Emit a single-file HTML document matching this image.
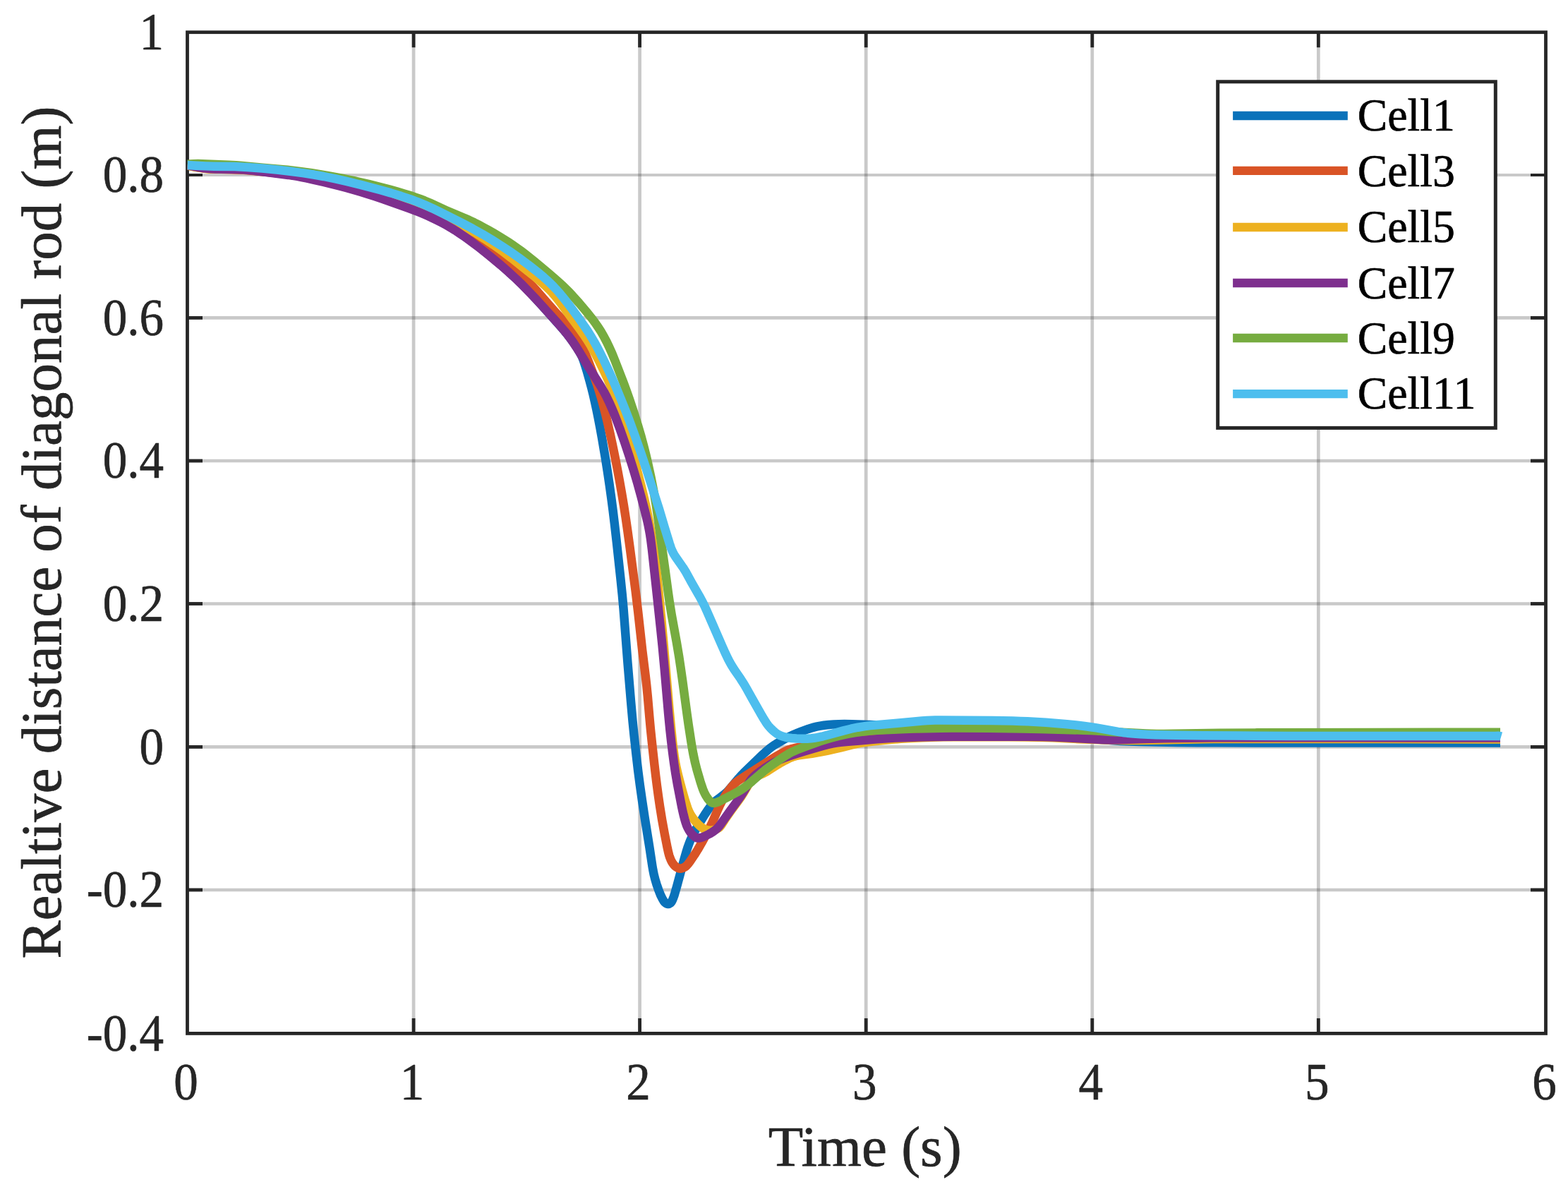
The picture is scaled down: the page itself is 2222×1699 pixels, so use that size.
<!DOCTYPE html>
<html lang="en"><head><meta charset="utf-8"><title>Relative distance of diagonal rod</title>
<style>html,body{margin:0;padding:0;background:#fff}body{width:2222px;height:1699px;overflow:hidden}svg{display:block}text{font-family:"Liberation Serif","DejaVu Serif",serif;fill:#262626;stroke:#262626;stroke-width:0.7px;stroke-linejoin:round}.tk{font-size:73.5px}.lab{font-size:81px}.lg{font-size:66px;fill:#000;stroke:#000}</style></head><body>
<svg width="2222" height="1699" viewBox="0 0 2222 1699">
<rect width="2222" height="1699" fill="#fff"/>
<g stroke="#262626" stroke-opacity="0.25" stroke-width="4.7" fill="none">
<line x1="586.1" y1="45.7" x2="586.1" y2="1464.4"/>
<line x1="906.6" y1="45.7" x2="906.6" y2="1464.4"/>
<line x1="1227.2" y1="45.7" x2="1227.2" y2="1464.4"/>
<line x1="1547.8" y1="45.7" x2="1547.8" y2="1464.4"/>
<line x1="1868.3" y1="45.7" x2="1868.3" y2="1464.4"/>
<line x1="265.5" y1="248.0" x2="2190.5" y2="248.0" stroke-width="4"/>
<line x1="265.5" y1="450.4" x2="2190.5" y2="450.4"/>
<line x1="265.5" y1="653.0" x2="2190.5" y2="653.0"/>
<line x1="265.5" y1="855.5" x2="2190.5" y2="855.5"/>
<line x1="265.5" y1="1058.4" x2="2190.5" y2="1058.4"/>
<line x1="265.5" y1="1261.0" x2="2190.5" y2="1261.0"/>
</g>
<g stroke="#262626" stroke-width="4.8" fill="none">
<rect x="265.5" y="45.7" width="1925.0" height="1418.7"/>
<line x1="586.1" y1="1464.4" x2="586.1" y2="1442.9"/>
<line x1="586.1" y1="45.7" x2="586.1" y2="67.2"/>
<line x1="906.6" y1="1464.4" x2="906.6" y2="1442.9"/>
<line x1="906.6" y1="45.7" x2="906.6" y2="67.2"/>
<line x1="1227.2" y1="1464.4" x2="1227.2" y2="1442.9"/>
<line x1="1227.2" y1="45.7" x2="1227.2" y2="67.2"/>
<line x1="1547.8" y1="1464.4" x2="1547.8" y2="1442.9"/>
<line x1="1547.8" y1="45.7" x2="1547.8" y2="67.2"/>
<line x1="1868.3" y1="1464.4" x2="1868.3" y2="1442.9"/>
<line x1="1868.3" y1="45.7" x2="1868.3" y2="67.2"/>
<line x1="265.5" y1="248.0" x2="287.0" y2="248.0" stroke-width="4"/>
<line x1="2190.5" y1="248.0" x2="2169.0" y2="248.0" stroke-width="4"/>
<line x1="265.5" y1="450.4" x2="287.0" y2="450.4"/>
<line x1="2190.5" y1="450.4" x2="2169.0" y2="450.4"/>
<line x1="265.5" y1="653.0" x2="287.0" y2="653.0"/>
<line x1="2190.5" y1="653.0" x2="2169.0" y2="653.0"/>
<line x1="265.5" y1="855.5" x2="287.0" y2="855.5"/>
<line x1="2190.5" y1="855.5" x2="2169.0" y2="855.5"/>
<line x1="265.5" y1="1058.4" x2="287.0" y2="1058.4"/>
<line x1="2190.5" y1="1058.4" x2="2169.0" y2="1058.4"/>
<line x1="265.5" y1="1261.0" x2="287.0" y2="1261.0"/>
<line x1="2190.5" y1="1261.0" x2="2169.0" y2="1261.0"/>
</g>
<clipPath id="pc"><rect x="265.5" y="45.7" width="1925.0" height="1418.7"/></clipPath>
<g clip-path="url(#pc)" fill="none" stroke-width="12.5" stroke-linejoin="round" stroke-linecap="butt">
<path stroke="#0A72BA" d="M265.5 234L275.47 235.79L282.39 236.93L288.22 237.72L294.14 238.33L299.1 238.69L304.09 238.91L330.09 239.43L342.07 239.95L348.05 240.38L355.02 241.01L377.91 243.45L397.79 245.71L412.64 247.74L419.55 248.85L426.43 250.08L441.14 253.04L451.89 255.41L462.6 257.91L473.28 260.55L483.93 263.31L495.51 266.44L506.1 269.44L516.64 272.58L526.18 275.56L536.63 279L548.92 283.24L564.93 288.98L578.07 293.83L587.4 297.43L595.73 300.82L603.99 304.38L611.27 307.7L618.49 311.17L624.74 314.34L630.91 317.64L636.12 320.58L641.27 323.65L647.18 327.38L653.01 331.26L658.77 335.24L666.09 340.48L673.32 345.85L680.46 351.32L688.32 357.52L696.85 364.46L704.53 370.86L712.12 377.38L719.62 384L731.41 394.82L742.15 405.28L753.27 416.78L766.13 430.77L792.77 460.66L800.63 469.75L805.04 475.17L809.3 480.73L813.39 486.42L817.31 492.25L820.5 497.35L822.98 501.69L824.73 505.25L826.57 509.85L829.09 517.41L831.72 526.01L835.28 538.52L838.13 549.15L840.53 558.84L842.78 568.58L845.31 580.3L847.89 593.04L850.53 606.8L853.03 620.59L858.21 651.15L861 668.93L863.64 686.74L866.27 705.57L868.6 723.41L870.76 741.28L873.71 767.12L879.32 818.81L881.76 842.69L883.48 861.61L889.47 939.38L894.06 994.19L896.45 1021.08L898.63 1042.97L901.47 1068.82L904.27 1092.65L906.86 1112.48L910.11 1135.25L913.86 1159.97L920.37 1200.45L924.39 1227.16L925.41 1233.06L926.62 1238.93L928.3 1245.7L930.58 1253.36L933.21 1260.9L936.13 1268.39L938.8 1273.78L940.89 1277.21L942.15 1278.71L943.62 1279.9L944.43 1280.38L945.29 1280.75L946.16 1280.97L947.03 1281.02L947.88 1280.87L948.71 1280.54L949.5 1280.05L950.9 1278.77L952.04 1277.23L952.94 1275.48L954.07 1272.72L955.42 1268.92L959.08 1256.36L969.51 1217.71L972.53 1207.13L974.34 1201.42L975.98 1196.71L977.78 1192.08L979.76 1187.51L982.37 1182.14L985.67 1175.97L990.17 1168.15L994.83 1160.42L998.56 1154.5L1002.45 1148.68L1005.92 1143.79L1009 1139.89L1011.02 1137.73L1013.96 1135.09L1025.84 1126.01L1028.14 1124.12L1030.32 1122.11L1032.37 1119.97L1034.34 1117.73L1042.64 1107.7L1046.54 1103.13L1049.9 1099.42L1054.06 1095.1L1074.82 1074.86L1080.61 1069.34L1088.07 1062.71L1091.15 1060.18L1093.54 1058.38L1096.83 1056.14L1100.22 1054.02L1109.71 1048.48L1117.66 1044.27L1125.8 1040.46L1130.4 1038.5L1135.99 1036.29L1145.43 1032.92L1149.24 1031.71L1153.08 1030.63L1156.94 1029.69L1160.83 1028.89L1167.71 1027.75L1174.65 1026.92L1181.63 1026.39L1188.62 1026.14L1196.62 1026.12L1207.62 1026.33L1231.61 1026.95L1245.6 1027.49L1256.58 1028.11L1346.4 1033.78L1420.27 1038.16L1450.22 1040.03L1482.14 1042.23L1587.88 1049.91L1600.85 1050.61L1614.83 1051.07L1638.82 1051.53L1668.82 1051.95L1697.82 1052.23L1725.83 1052.37L1900.83 1052.54L2126 1052.6"/>
<path stroke="#D95426" d="M265.5 234.2L274.45 236.02L282.33 237.42L289.14 238.39L295.06 239.01L300.03 239.37L305.01 239.61L331.01 240.22L338.01 240.49L345 240.88L361.94 242.26L397.78 245.72L414.67 247.66L429.53 249.69L444.34 252.04L458.1 254.6L465.93 256.23L474.72 258.19L484.45 260.51L494.15 262.94L511.52 267.66L520.16 270.2L527.79 272.57L536.34 275.37L546.74 278.96L573.08 288.5L590.81 295.33L599.14 298.74L607.41 302.27L615.63 305.95L622.88 309.35L630.06 312.88L637.15 316.56L644.16 320.4L651.09 324.4L657.94 328.55L664.71 332.81L671.4 337.2L678.01 341.69L684.54 346.31L691.8 351.63L698.98 357.07L707.67 363.83L717.07 371.32L724.83 377.65L733.22 384.78L740.64 391.46L747.1 397.67L754.03 404.83L762.07 413.72L776.48 430.41L782.47 437.19L788.6 443.88L801.11 457.13L805.83 462.35L810.95 468.45L813.35 471.58L815.64 474.77L819.36 480.52L822.73 486.5L826.22 493.62L829.44 500.95L834.69 514.05L841.46 531.88L845.82 544.14L849.23 554.59L852.09 564.15L855 574.74L858.23 587.32L861.27 599.98L864.59 614.63L867.96 630.29L871.39 646.94L874.67 663.61L877.97 681.31L881.09 699.05L884.05 716.8L886.66 733.6L889.38 752.41L892.51 775.19L900.67 837.66L904.14 866.45L910.3 922.11L914.73 957.84L916.22 970.75L917.81 986.67L920.56 1018.55L921.95 1033.49L924.02 1053.38L927.33 1083.2L929.17 1099.09L930.92 1112.98L932.93 1127.85L935.09 1142.7L938.12 1161.45L941.9 1182.1L945.79 1201.72L947.09 1207.57L948.35 1212.39L949.3 1215.23L950.43 1217.99L951.74 1220.67L953.28 1223.24L955.1 1225.62L956.48 1227.05L958.81 1228.93L960.53 1229.9L962.33 1230.52L963.26 1230.67L965.14 1230.63L967.02 1230.18L967.95 1229.84L969.73 1228.98L971.37 1227.92L973.55 1226.02L975.48 1223.77L977.9 1220.53L984.1 1211.37L988.88 1203.74L994.4 1194.22L1000.63 1182.81L1004.77 1174.82L1008.69 1166.72L1011.56 1160.35L1017.13 1147.51L1019.63 1142.06L1022.31 1136.71L1024.72 1132.34L1026.77 1128.92L1028.93 1125.57L1031.19 1122.29L1034.15 1118.27L1036.63 1115.15L1038.58 1112.89L1040.65 1110.76L1042.86 1108.79L1045.2 1106.95L1047.63 1105.21L1056.79 1099.11L1093.11 1076.04L1099.91 1071.83L1106.78 1067.76L1111.15 1065.35L1114.74 1063.62L1118.44 1062.17L1122.25 1060.99L1127.09 1059.8L1132.94 1058.55L1142.77 1056.74L1178.29 1050.81L1185.21 1049.81L1191.15 1049.1L1198.11 1048.43L1206.07 1047.83L1226.05 1046.69L1262.03 1045.1L1281.02 1044.43L1297.02 1044.08L1319.01 1043.84L1356.01 1043.61L1392.02 1043.51L1421.02 1043.56L1451.02 1043.8L1483.02 1044.23L1508.01 1044.79L1539.98 1046.15L1555.97 1046.68L1580.96 1047.25L1600.96 1047.46L1630.96 1047.34L1701.96 1046.43L1734.95 1046.21L1955.95 1046.25L2126 1046.5"/>
<path stroke="#EDB120" d="M265.5 234.4L273.46 236.09L281.32 237.57L288.12 238.65L293.05 239.17L298.01 239.43L303.99 239.58L332 239.69L343.99 240.05L355.96 240.88L390.83 244.11L407.73 245.86L421.63 247.56L436.47 249.74L450.27 252.09L458.12 253.6L465.95 255.23L482.52 259.04L499 263.24L516.34 268.07L526.88 271.19L537.4 274.42L565.96 283.59L587.81 290.81L605.74 297.11L618.87 302.03L629.05 306.17L634.52 308.59L639.03 310.7L647.93 315.22L653.2 318.09L659.29 321.56L673.02 329.81L686.55 338.37L699.01 346.72L712.04 355.99L724.8 365.65L739.67 377.49L757.61 392.01L765.34 398.42L769.88 402.35L773.57 405.7L777.16 409.13L779.94 411.95L782.65 414.83L785.93 418.54L791.58 425.47L796.4 431.87L808.74 448.97L823.02 468.32L827.62 474.86L832.03 481.51L837.74 490.87L843.6 501.35L849.6 512.9L855.76 525.48L861.61 538.21L866.71 550.18L871.42 562.27L876.09 575.43L880.78 589.68L885.78 605.94L891.39 625.18L898.7 651.18L904.21 671.45L908.97 689.86L912.97 706.38L916.68 722.96L919.67 737.66L922.36 752.42L925.07 769.2L927.64 787.01L929.82 803.88L931.64 819.77L933.27 835.69L936.45 868.54L940.88 916.33L948.35 1003.01L951.09 1031.89L953.08 1050.81L954.62 1063.73L956.16 1074.61L957.7 1083.45L959.12 1090.29L961.19 1099.04L964.2 1110.66L967.36 1122.25L970.14 1131.88L972.53 1139.53L974.46 1145.21L976.29 1149.81L978.04 1153.35L980.64 1157.58L983.6 1161.6L986.83 1165.43L990.31 1169.02L993.29 1171.64L994.88 1172.82L996.55 1173.88L999.21 1175.2L1002.05 1176.14L1004 1176.53L1005.98 1176.71L1009.01 1176.55L1012.04 1175.98L1014.9 1175.1L1017.43 1173.94L1018.9 1172.93L1020.22 1171.69L1022.02 1169.41L1027.03 1161.56L1032.79 1153.22L1036.88 1147.48L1045.81 1135.37L1049.31 1130.45L1051.56 1127.08L1054.24 1122.73L1061.43 1110.35L1063.63 1107.1L1065.45 1104.93L1067.51 1103.05L1069.88 1101.47L1073.4 1099.66L1082.44 1095.5L1085.95 1093.67L1088.49 1092.13L1095.16 1087.76L1101.92 1083.5L1107.08 1080.45L1112.33 1077.58L1117.67 1074.88L1121.31 1073.26L1125.06 1071.91L1127.93 1071.15L1131.84 1070.43L1150.6 1067.79L1161.44 1065.91L1173.2 1063.55L1184.93 1061.01L1192.71 1059.14L1206.26 1055.64L1213.06 1054.09L1217.96 1053.16L1222.88 1052.36L1228.82 1051.55L1236.77 1050.6L1251.69 1049.01L1264.63 1047.79L1276.6 1046.87L1290.57 1046.01L1306.55 1045.23L1320.54 1044.72L1336.54 1044.37L1352.54 1044.22L1429.54 1044.34L1458.54 1044.47L1472.53 1044.65L1491.52 1045.26L1528.48 1047.17L1544.46 1047.83L1575.45 1048.64L1599.45 1048.95L1614.45 1048.93L1630.45 1048.76L1702.44 1047.34L1719.44 1047.11L1735.44 1047.02L1956.43 1047.09L2126 1047.5"/>
<path stroke="#7E2F8E" d="M265.5 234L273.46 235.69L281.34 237.15L288.13 238.2L294.05 238.85L299.01 239.16L304.99 239.38L328 239.73L336.99 239.99L346.97 240.59L357.92 241.64L383.75 244.69L408.54 247.94L421.38 249.93L427.27 251L434.13 252.39L443.9 254.54L457.54 257.72L479.87 263.26L490.5 266.07L501.1 269.01L510.71 271.79L520.27 274.7L530.75 278.05L541.17 281.56L577.96 294.58L585.47 297.35L592.92 300.25L600.3 303.29L606.71 306.09L613.07 309.02L619.38 312.08L625.61 315.27L630.89 318.12L636.11 321.07L641.25 324.14L646.33 327.33L652.17 331.19L658.75 335.73L665.25 340.39L671.68 345.15L678.84 350.62L686.7 356.81L694.48 363.09L709.83 375.92L721.12 385.8L731.43 395.27L740.75 404.33L751.22 415.06L759.45 423.8L767.58 432.62L791.01 458.67L800.2 469.25L803.98 473.89L807.03 477.83L811.69 484.27L816.65 491.74L820.87 498.54L833.84 519.98L847.43 541.07L851.65 547.87L855.63 554.76L859.32 561.78L862.77 568.92L866.43 577.09L869.16 583.52L872.15 590.95L878.19 606.92L884.84 625.88L892.08 647.73L897.75 665.85L903.11 684.1L908.44 703.39L913.98 724.69L917.53 739.28L918.81 745.14L919.96 751.01L921 756.91L922.05 763.81L923.96 778.68L929.72 831.4L936.33 893.05L938.59 914.93L941.56 946.79L947.25 1012.55L949.28 1033.45L951.14 1050.35L953.07 1066.24L955.06 1081.11L957.11 1094.95L959.99 1111.7L966.06 1143.13L967.32 1149.01L968.69 1154.85L970.21 1160.65L971.61 1165.44L972.91 1169.22L974.47 1172.88L976.36 1176.4L977.99 1178.93L980.46 1182.06L982.58 1184.2L984.96 1186.07L986.68 1186.98L987.56 1187.29L989.36 1187.58L990.27 1187.57L992.12 1187.3L994.94 1186.45L999.62 1184.49L1005.06 1181.75L1007.69 1180.24L1010.24 1178.63L1012.68 1176.91L1014.23 1175.68L1017.12 1173.03L1019.09 1170.85L1021.52 1167.72L1034.21 1149.69L1047.74 1131.05L1050.55 1126.89L1053.25 1122.64L1062.12 1108.02L1063.78 1105.56L1064.95 1104L1067.53 1101.1L1068.94 1099.75L1071.18 1097.82L1079.08 1091.75L1085.62 1087.18L1089.83 1084.5L1094.13 1081.97L1097.64 1080.06L1102.1 1077.82L1105.72 1076.14L1109.41 1074.61L1117.86 1071.61L1129.25 1067.88L1139.74 1064.59L1156.02 1059.67L1165.64 1056.94L1172.42 1055.2L1179.24 1053.69L1185.12 1052.62L1191.05 1051.79L1198.99 1050.99L1217.93 1049.51L1242.82 1047.19L1253.79 1046.43L1268.77 1045.61L1284.76 1044.91L1299.75 1044.47L1324.75 1044.08L1352.75 1043.8L1390.75 1043.63L1422.75 1043.63L1455.75 1043.81L1477.74 1044.12L1494.74 1044.58L1510.72 1045.18L1524.7 1045.89L1560.65 1048.01L1568.64 1048.33L1575.63 1048.44L1585.62 1048.27L1614.6 1047.21L1650.59 1046.35L1686.58 1045.69L1719.59 1045.36L1918.58 1045.32L2126 1045.5"/>
<path stroke="#76AC40" d="M265.5 232.8L269.59 232.42L274.63 232.18L280.67 232.11L286.54 232.18L324.43 233.73L334.41 234.29L343.37 235.03L372.23 237.84L398.15 239.95L407.11 240.78L423 242.63L441.81 245.25L462.55 248.58L483.2 252.37L502.79 256.4L523.26 261.09L543.63 266.2L553.29 268.81L562.91 271.54L572.5 274.39L581.1 277.08L588.69 279.6L595.28 281.95L601.8 284.45L609.16 287.52L632.82 298.32L640.17 301.5L658.64 309.15L665.02 312.01L672.23 315.47L678.46 318.65L685.53 322.42L692.53 326.29L700.35 330.77L707.23 334.85L714.06 339.03L720.81 343.34L726.63 347.21L733.19 351.77L738.84 355.88L745.2 360.72L752.26 366.31L762.32 374.57L776.91 386.78L785.27 393.94L792.01 399.91L797.14 404.66L802.16 409.51L806.38 413.77L811.2 418.84L820.55 429.27L831.53 442.28L837.81 450.09L843.25 457.27L847.81 463.81L851.56 469.69L855.56 476.58L859.76 484.54L863.68 492.66L867.33 500.89L871.84 512.01L883.74 542.81L887.91 554.06L892.2 566.32L898.5 585.31L903.9 602.51L908.67 618.84L912.8 634.28L915.2 643.97L917.72 654.67L922.42 676.17L926.48 696.8L929.71 715.53L931.92 730.35L936.02 761.09L942.15 804.66L946.82 839.35L948.66 852.21L951.69 870.96L958.86 910.32L962.15 930.05L964.38 944.88L967.34 965.67L973.62 1012.26L975.72 1027.11L979.51 1051.85L981 1060.73L982.44 1068.6L984.92 1080.32L987.64 1090.95L992.41 1107.28L994.53 1113.95L996.2 1118.67L997.73 1122.38L999.05 1125.1L1000.5 1127.73L1002.11 1130.27L1003.89 1132.72L1005.91 1135.06L1007.39 1136.4L1008.97 1137.38L1009.78 1137.69L1010.61 1137.88L1011.45 1137.95L1013.19 1137.79L1015.9 1137.01L1018.69 1135.87L1021.5 1134.56L1035.97 1127.14L1043.88 1122.8L1049.89 1119.25L1054.01 1116.46L1059.55 1112.2L1065.7 1107.08L1076.26 1097.88L1080.83 1094L1085.5 1090.24L1091.07 1086.01L1100.86 1079.06L1111.67 1071.81L1118.45 1067.6L1121.07 1066.18L1123.75 1064.88L1129.25 1062.53L1136.68 1059.58L1146.04 1056.07L1154.52 1053.03L1162.09 1050.45L1168.76 1048.3L1175.46 1046.28L1182.2 1044.41L1188.01 1042.93L1194.83 1041.36L1201.68 1039.95L1207.58 1038.88L1213.51 1037.94L1219.45 1037.13L1226.4 1036.31L1233.36 1035.63L1243.33 1034.87L1254.32 1034.24L1277.29 1033.22L1294.28 1032.59L1311.28 1032.14L1334.27 1031.71L1347.27 1031.56L1361.27 1031.54L1400.27 1031.82L1449.27 1032.48L1473.26 1033.01L1536.24 1034.68L1544.23 1034.96L1552.22 1035.37L1574.16 1036.96L1585.14 1037.61L1624.09 1039.52L1631.09 1039.76L1639.08 1039.9L1649.07 1039.91L1663.07 1039.77L1728.07 1038.69L1781.07 1038.37L1939.07 1037.92L2126 1037.7"/>
<path stroke="#4DBEEE" d="M265.5 234.1L277.68 234.81L291.49 235.38L303.47 235.68L332.46 236.08L341.45 236.42L350.43 236.95L371.37 238.59L392.27 240.57L411.15 242.71L429 245.1L444.81 247.55L458.58 250L474.26 253.19L490.85 256.92L510.27 261.69L538.33 269.04L553.74 273.37L568.07 277.8L580.39 281.97L591.64 286.14L601.81 290.28L612.74 295.18L628.94 303.07L655.74 316.59L669.87 324.09L683.81 331.94L697.55 340.15L710.23 348.16L722.72 356.46L735.01 365.09L748.66 375.23L761.31 385.12L770.53 392.83L774.99 396.82L778.61 400.22L782.84 404.41L787.61 409.45L792.25 414.65L796.76 420L801.78 426.25L806.7 432.61L812.72 440.65L819.81 450.38L829.01 463.49L832.88 469.32L836.62 475.23L839.7 480.36L843.17 486.42L846.51 492.55L850.2 499.65L855.98 511.32L861.94 524.01L868.12 537.69L874.09 551.45L879.84 565.31L885.77 580.18L891.51 595.11L897.08 610.11L901.81 623.29L906.76 637.45L911.26 650.7L915.65 663.99L933.98 721.13L941.97 747.96L948.68 769.94L950.9 776.56L952.81 781.16L954.61 784.71L956.67 788.12L968.09 804.49L971.32 809.52L979.93 825.25L990.89 844.27L995.2 852.16L998.31 858.41L1001.23 864.77L1023.21 915.18L1027.68 925.23L1032 934.24L1034.33 938.65L1036.3 942.12L1040.53 948.88L1049.61 962.02L1054.44 969.59L1057.95 975.63L1065.73 989.61L1079.05 1013.09L1083.12 1019.96L1086.38 1024.98L1088.76 1028.17L1090.69 1030.45L1092.74 1032.63L1095.63 1035.39L1098.69 1037.97L1101.09 1039.72L1102.77 1040.76L1105.4 1042.09L1109.09 1043.51L1112.93 1044.59L1116.85 1045.36L1121.81 1045.99L1128.77 1046.5L1136.76 1046.74L1143.74 1046.67L1149.71 1046.3L1153.67 1045.81L1157.6 1045.15L1166.37 1043.28L1174.11 1041.28L1195.34 1035.37L1206.01 1032.72L1215.79 1030.72L1225.65 1029.15L1233.59 1028.13L1242.54 1027.19L1271.44 1024.76L1306.29 1021.46L1313.27 1020.95L1319.26 1020.64L1325.25 1020.48L1332.24 1020.43L1406.25 1021.12L1435.24 1021.56L1446.23 1021.88L1456.22 1022.3L1482.17 1023.86L1497.14 1024.96L1512.08 1026.26L1525.01 1027.57L1536.93 1028.99L1545.84 1030.21L1553.75 1031.42L1563.61 1033.09L1584.26 1036.86L1591.17 1037.93L1597.12 1038.67L1606.07 1039.54L1616.05 1040.27L1627.03 1040.87L1638.02 1041.28L1667.01 1041.85L1705.01 1042.29L1753.01 1042.58L1827.01 1042.88L1893.01 1043L2110.88 1043L2118.87 1042.95L2122.9 1042.74L2124.87 1042.89L2127.3 1043.6"/>
</g>
<g class="tk" text-anchor="end">
<text transform="translate(232 70.1) scale(0.94 1)">1</text>
<text transform="translate(232 272.4) scale(0.94 1)">0.8</text>
<text transform="translate(232 474.8) scale(0.94 1)">0.6</text>
<text transform="translate(232 677.4) scale(0.94 1)">0.4</text>
<text transform="translate(232 879.9) scale(0.94 1)">0.2</text>
<text transform="translate(232 1082.8) scale(0.94 1)">0</text>
<text transform="translate(232 1285.4) scale(0.94 1)">-0.2</text>
<text transform="translate(232 1488.8) scale(0.94 1)">-0.4</text>
</g>
<g class="tk" text-anchor="middle">
<text transform="translate(263.5 1557.6) scale(0.94 1)">0</text>
<text transform="translate(584.1 1557.6) scale(0.94 1)">1</text>
<text transform="translate(904.6 1557.6) scale(0.94 1)">2</text>
<text transform="translate(1225.2 1557.6) scale(0.94 1)">3</text>
<text transform="translate(1545.8 1557.6) scale(0.94 1)">4</text>
<text transform="translate(1866.3 1557.6) scale(0.94 1)">5</text>
<text transform="translate(2188.5 1557.6) scale(0.94 1)">6</text>
</g>
<text class="lab" x="1088.8" y="1652.1">Time (s)</text>
<text class="lab" text-anchor="end" transform="translate(86 150.6) rotate(-90)">Realtive distance of diagonal rod (m)</text>
<rect x="1725.7" y="115.8" width="393.6" height="490.6" fill="#fff" stroke="#262626" stroke-width="5"/>
<line x1="1747.1" y1="164.0" x2="1909.8" y2="164.0" stroke="#0A72BA" stroke-width="12.3"/>
<text class="lg" transform="translate(1923.8 185.1) scale(0.965 1)">Cell1</text>
<line x1="1747.1" y1="241.9" x2="1909.8" y2="241.9" stroke="#D95426" stroke-width="12.3"/>
<text class="lg" transform="translate(1923.8 263.6) scale(0.965 1)">Cell3</text>
<line x1="1747.1" y1="322.0" x2="1909.8" y2="322.0" stroke="#EDB120" stroke-width="12.3"/>
<text class="lg" transform="translate(1923.8 343.1) scale(0.965 1)">Cell5</text>
<line x1="1747.1" y1="401.0" x2="1909.8" y2="401.0" stroke="#7E2F8E" stroke-width="12.3"/>
<text class="lg" transform="translate(1923.8 422.6) scale(0.965 1)">Cell7</text>
<line x1="1747.1" y1="479.0" x2="1909.8" y2="479.0" stroke="#76AC40" stroke-width="12.3"/>
<text class="lg" transform="translate(1923.8 501.1) scale(0.965 1)">Cell9</text>
<line x1="1747.1" y1="558.2" x2="1909.8" y2="558.2" stroke="#4DBEEE" stroke-width="12.3"/>
<text class="lg" transform="translate(1923.8 579.2) scale(0.965 1)">Cell11</text>
</svg></body></html>
